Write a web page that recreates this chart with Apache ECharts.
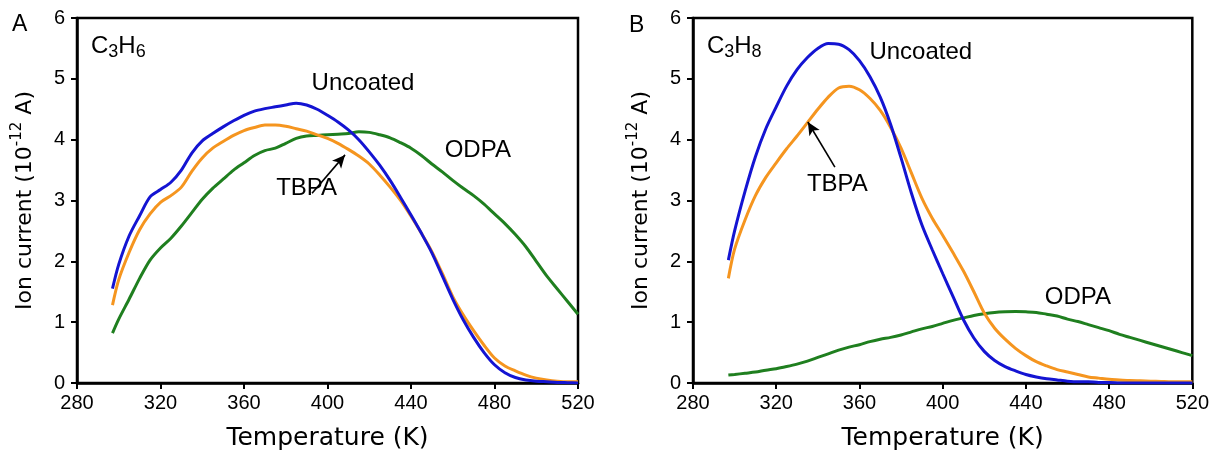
<!DOCTYPE html>
<html>
<head>
<meta charset="utf-8">
<script src="https://cdn.jsdelivr.net/npm/echarts@6/dist/echarts.min.js"></script>
<style>
  html, body { margin: 0; padding: 0; background: #fff; }
  #chart { width: 1212px; height: 456px; }
</style>
</head>
<body>
<div id="chart"></div>
<script>
// Temperature grid (K), 297 K then every 5 K up to 520 K — shared by both panels
const temps = [297, 300, 305, 310, 315, 320, 325, 330, 335, 340, 345, 350, 355, 360, 365, 370, 375, 380, 385, 390, 395, 400, 405, 410, 415, 420, 425, 430, 435, 440, 445, 450, 455, 460, 465, 470, 475, 480, 485, 490, 495, 500, 505, 510, 515, 520];

// Panel A, C3H6 ion current (10^-12 A)
const uncoatedA = [1.55, 1.95, 2.42, 2.75, 3.06, 3.18, 3.3, 3.5, 3.78, 3.98, 4.1, 4.21, 4.31, 4.4, 4.47, 4.51, 4.54, 4.57, 4.6, 4.57, 4.5, 4.4, 4.29, 4.16, 4.0, 3.8, 3.58, 3.33, 3.05, 2.76, 2.46, 2.14, 1.76, 1.38, 1.04, 0.75, 0.5, 0.3, 0.17, 0.09, 0.05, 0.03, 0.02, 0.01, 0.005, 0.0];
const tbpaA     = [1.28, 1.7, 2.15, 2.52, 2.78, 2.97, 3.08, 3.22, 3.48, 3.7, 3.86, 3.97, 4.07, 4.15, 4.2, 4.24, 4.24, 4.22, 4.18, 4.14, 4.08, 4.02, 3.94, 3.84, 3.73, 3.6, 3.42, 3.22, 3.0, 2.74, 2.46, 2.16, 1.8, 1.42, 1.12, 0.86, 0.62, 0.41, 0.28, 0.2, 0.13, 0.08, 0.05, 0.03, 0.02, 0.02];
const odpaA     = [0.82, 1.05, 1.38, 1.72, 2.02, 2.22, 2.38, 2.58, 2.8, 3.02, 3.2, 3.35, 3.5, 3.62, 3.74, 3.82, 3.86, 3.94, 4.02, 4.06, 4.07, 4.08, 4.09, 4.1, 4.13, 4.12, 4.08, 4.03, 3.95, 3.86, 3.74, 3.6, 3.47, 3.33, 3.2, 3.08, 2.94, 2.78, 2.62, 2.44, 2.24, 2.0, 1.76, 1.55, 1.34, 1.13];

// Panel B, C3H8 ion current (10^-12 A)
const uncoatedB = [2.02, 2.5, 3.15, 3.72, 4.18, 4.54, 4.88, 5.15, 5.35, 5.5, 5.58, 5.57, 5.48, 5.3, 5.04, 4.7, 4.25, 3.7, 3.12, 2.6, 2.19, 1.8, 1.42, 1.04, 0.74, 0.52, 0.37, 0.27, 0.2, 0.14, 0.1, 0.07, 0.05, 0.03, 0.02, 0.02, 0.01, 0.01, 0.0, 0.0, 0.0, 0.0, 0.0, 0.0, 0.0, 0.0];
const tbpaB     = [1.72, 2.2, 2.68, 3.08, 3.38, 3.62, 3.85, 4.06, 4.28, 4.5, 4.7, 4.85, 4.88, 4.82, 4.68, 4.48, 4.2, 3.86, 3.45, 3.04, 2.71, 2.43, 2.14, 1.84, 1.5, 1.15, 0.9, 0.72, 0.57, 0.45, 0.35, 0.28, 0.22, 0.18, 0.14, 0.1, 0.08, 0.06, 0.05, 0.04, 0.035, 0.03, 0.025, 0.02, 0.02, 0.02];
const odpaB     = [0.13, 0.14, 0.16, 0.18, 0.21, 0.235, 0.27, 0.31, 0.36, 0.42, 0.48, 0.54, 0.59, 0.63, 0.68, 0.72, 0.75, 0.79, 0.84, 0.89, 0.93, 0.98, 1.03, 1.07, 1.11, 1.14, 1.16, 1.17, 1.175, 1.17, 1.16, 1.13, 1.1, 1.05, 1.01, 0.96, 0.91, 0.86, 0.8, 0.75, 0.7, 0.65, 0.6, 0.55, 0.5, 0.45];

// Axis ranges and tick labels
const xTicks = [280, 320, 360, 400, 440, 480, 520];
const yTicks = [0, 1, 2, 3, 4, 5, 6];

// Text annotations: [x (K), y (10^-12 A), text]
const notesA = [[417, 4.93, 'Uncoated'], [472, 3.83, 'ODPA'], [390, 3.2, 'TBPA']];
const notesB = [[389.5, 5.44, 'Uncoated'], [465, 1.41, 'ODPA'], [349.4, 3.26, 'TBPA']];
// Arrows pointing at the TBPA curves: [[x0, y0], [x1, y1]]
const arrowA = [[392.6, 3.12], [408.4, 3.75]];
const arrowB = [[348.2, 3.55], [335.2, 4.29]];
// Gas species labels in the upper-left corner of each panel
const gasA = [286.7, 5.54, '{m|C}{s|3}{m|H}{s|6}'];
const gasB = [286.7, 5.54, '{m|C}{s|3}{m|H}{s|8}'];

const COLORS = { uncoated: '#1414d2', tbpa: '#f5951f', odpa: '#1f7f1f' };
const TITLE_FONT = 'DejaVu Sans';
const TEXT_FONT = 'Liberation Sans, Arial, sans-serif';

const zip = (xs, ys) => xs.map((x, i) => [x, ys[i]]);

function xAxisFor(gi) {
  return {
    type: 'value', gridIndex: gi, min: xTicks[0], max: xTicks[xTicks.length - 1], interval: 40,
    name: 'Temperature (K)', nameLocation: 'middle', nameGap: 43,
    nameTextStyle: { fontFamily: TITLE_FONT, fontSize: 25, color: '#000' },
    axisLine: { show: true, onZero: false, lineStyle: { color: '#000', width: 2.5 } },
    axisTick: { show: true, inside: false, length: 6, lineStyle: { color: '#000', width: 2 } },
    axisLabel: { margin: 10, fontFamily: TEXT_FONT, fontSize: 20, color: '#000' },
    splitLine: { show: false }
  };
}

function yAxisFor(gi) {
  return {
    type: 'value', gridIndex: gi, min: yTicks[0], max: yTicks[yTicks.length - 1], interval: 1,
    name: '{m|Ion current (10}{s|-12}{m| A)}', nameLocation: 'middle', nameGap: 37,
    nameTextStyle: {
      color: '#000',
      rich: {
        m: { fontFamily: TITLE_FONT, fontSize: 22, lineHeight: 30, color: '#000' },
        s: { fontFamily: TITLE_FONT, fontSize: 15, lineHeight: 15, verticalAlign: 'top', color: '#000' }
      }
    },
    axisLine: { show: true, onZero: false, lineStyle: { color: '#000', width: 2.5 } },
    axisTick: { show: true, inside: false, length: 6, lineStyle: { color: '#000', width: 2 } },
    axisLabel: { margin: 12, fontFamily: TEXT_FONT, fontSize: 20, color: '#000' },
    splitLine: { show: false }
  };
}

function curve(gi, name, xs, ys, color) {
  return {
    type: 'line', name, xAxisIndex: gi, yAxisIndex: gi,
    data: zip(xs, ys), showSymbol: false, smooth: 0.3,
    lineStyle: { color, width: 3 }, itemStyle: { color },
    silent: true, animation: false, z: 3
  };
}

const noteLabel = {
  show: true, position: 'inside', fontFamily: TEXT_FONT, fontSize: 24,
  color: '#000', textBorderWidth: 0, opacity: 1
};

function notes(gi, list, gas, arrow) {
  const items = list.map(([x, y, t]) => ({
    value: [x, y],
    label: Object.assign({}, noteLabel, { formatter: t, align: 'center', verticalAlign: 'middle' })
  }));
  items.push({
    value: [gas[0], gas[1]],
    label: Object.assign({}, noteLabel, {
      formatter: gas[2], align: 'left', verticalAlign: 'middle',
      rich: {
        m: { fontFamily: TEXT_FONT, fontSize: 24, lineHeight: 30, color: '#000' },
        s: { fontFamily: TEXT_FONT, fontSize: 18, lineHeight: 18, verticalAlign: 'bottom', color: '#000' }
      }
    })
  });
  return {
    type: 'scatter', xAxisIndex: gi, yAxisIndex: gi,
    symbolSize: 1, itemStyle: { color: 'rgba(255,255,255,0)' },
    label: noteLabel,
    data: items, silent: true, animation: false, z: 5,
    markLine: {
      silent: true, animation: false,
      symbol: ['none', 'arrow'], symbolSize: [9, 13],
      lineStyle: { color: '#000', width: 1.6, type: 'solid' },
      label: { show: false },
      data: [[{ coord: arrow[0] }, { coord: arrow[1] }]]
    }
  };
}

const chart = echarts.init(document.getElementById('chart'), null, { renderer: 'canvas' });
chart.setOption({
  backgroundColor: '#fff',
  animation: false,
  grid: [
    { left: 77, top: 18, width: 501, height: 365, show: true, borderColor: '#000', borderWidth: 2.5, backgroundColor: 'transparent' },
    { left: 693, top: 18, width: 500, height: 365, show: true, borderColor: '#000', borderWidth: 2.5, backgroundColor: 'transparent' }
  ],
  xAxis: [xAxisFor(0), xAxisFor(1)],
  yAxis: [yAxisFor(0), yAxisFor(1)],
  graphic: [
    { type: 'text', left: 12, top: 13, style: { text: 'A', fontFamily: TEXT_FONT, fontSize: 23, fill: '#000' } },
    { type: 'text', left: 629, top: 14, style: { text: 'B', fontFamily: TEXT_FONT, fontSize: 23, fill: '#000' } }
  ],
  series: [
    curve(0, 'ODPA', temps, odpaA, COLORS.odpa),
    curve(0, 'TBPA', temps, tbpaA, COLORS.tbpa),
    curve(0, 'Uncoated', temps, uncoatedA, COLORS.uncoated),
    curve(1, 'ODPA', temps, odpaB, COLORS.odpa),
    curve(1, 'TBPA', temps, tbpaB, COLORS.tbpa),
    curve(1, 'Uncoated', temps, uncoatedB, COLORS.uncoated),
    notes(0, notesA, gasA, arrowA),
    notes(1, notesB, gasB, arrowB)
  ]
});
</script>
</body>
</html>
